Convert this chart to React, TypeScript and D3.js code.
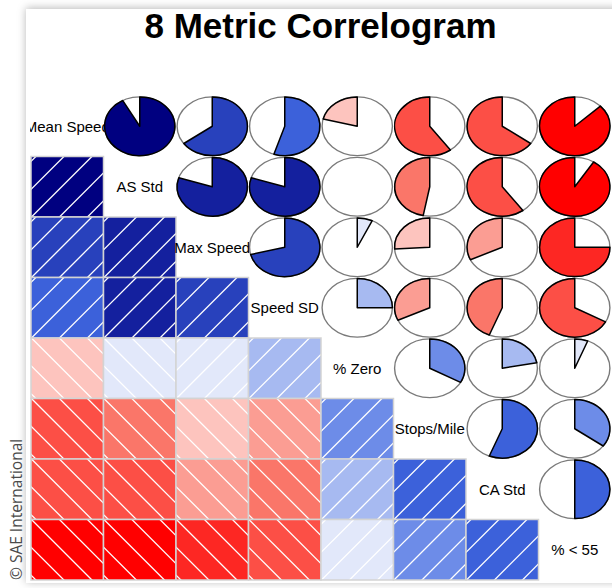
import React from "react";
import * as d3 from "d3";

// Metrics, in matrix order
const variables = [
  "Mean Speed",
  "AS Std",
  "Max Speed",
  "Speed SD",
  "% Zero",
  "Stops/Mile",
  "CA Std",
  "% < 55",
];

// Correlation of each metric with every metric listed after it
const rMeanSpeed = [0.92, 0.65, 0.55, -0.21, -0.6, -0.65, -0.87];
const rASStd = [0.8, 0.8, 0.0, -0.47, -0.6, -0.91];
const rMaxSpeed = [0.71, 0.07, -0.26, -0.32, -0.75];
const rSpeedSD = [0.25, -0.32, -0.44, -0.67];
const rPctZero = [0.33, 0.22, 0.06];
const rStopsMile = [0.56, 0.35];
const rCAStd = [0.5];

const upperRows = [rMeanSpeed, rASStd, rMaxSpeed, rSpeedSD, rPctZero, rStopsMile, rCAStd];

// Colour ramp stops (negative -> positive)
const rampStops = ["red", "salmon", "white", "royalblue", "navy"];
const colourBins = 14;

const titleText = "8 Metric Correlogram";
const creditText = "\u00A9 SAE International";

const W = 612;
const H = 588;
const FONT = "'Liberation Sans', Arial, Helvetica, sans-serif";

function corrAt(i: number, j: number): number {
  if (i === j) return 1;
  const a = Math.min(i, j);
  const b = Math.max(i, j);
  return upperRows[a][b - a - 1];
}

export default function App() {
  const x = d3.scaleBand<string>().domain(variables).range([31, 611]);
  const y = d3.scaleBand<string>().domain(variables).range([96, 580]);
  const bw = x.bandwidth();
  const bh = y.bandwidth();

  const palette = d3.quantize(d3.piecewise(d3.interpolateRgb, rampStops), colourBins);
  const colour = d3.scaleQuantize<string>().domain([-1, 1]).range(palette);

  const arc = d3.arc<any>().innerRadius(0).outerRadius(1);

  // hatch lines are anchored on the padded panel origin, 45 degrees on screen
  const pad = 0.04 / 1.08;
  const hatchStep = 28;
  const hatchK = d3.range(-8, 9);

  const cells: React.ReactNode[] = [];

  variables.forEach((rowVar, i) => {
    variables.forEach((colVar, j) => {
      const x0 = x(colVar)!;
      const y0 = y(rowVar)!;
      const cx = x0 + bw / 2;
      const cy = y0 + bh / 2;
      const key = `${i}-${j}`;

      if (i === j) {
        cells.push(
          <text
            key={key}
            x={cx}
            y={cy}
            textAnchor="middle"
            dominantBaseline="central"
            fontFamily={FONT}
            fontSize={15}
            fill="#000"
          >
            {rowVar}
          </text>
        );
        return;
      }

      const r = corrAt(i, j);

      if (i > j) {
        // shaded panel
        const ox = x0 + pad * bw;
        const oy = y0 + bh - pad * bh;
        const clipId = `clip-${key}`;
        cells.push(
          <g key={key}>
            <defs>
              <clipPath id={clipId}>
                <rect x={x0} y={y0} width={bw} height={bh} />
              </clipPath>
            </defs>
            <rect x={x0} y={y0} width={bw} height={bh} fill={colour(r)} />
            <g clipPath={`url(#${clipId})`} stroke="#fff" strokeWidth={1.3}>
              {hatchK.map((k) => {
                const px = ox + k * hatchStep;
                const L = 140;
                return r > 0 ? (
                  <line key={k} x1={px - L} y1={oy + L} x2={px + L} y2={oy - L} />
                ) : (
                  <line key={k} x1={px - L} y1={oy - L} x2={px + L} y2={oy + L} />
                );
              })}
            </g>
            <rect
              x={x0}
              y={y0}
              width={bw}
              height={bh}
              fill="none"
              stroke="#d3d3d3"
              strokeWidth={1.5}
            />
          </g>
        );
        return;
      }

      // pie panel: clockwise from 12 o'clock for positive, anticlockwise for negative
      const rx = bw * 0.485;
      const ry = bh * 0.485;
      const angle = r * 2 * Math.PI;
      const slice =
        r !== 0
          ? arc({
              startAngle: Math.min(0, angle),
              endAngle: Math.max(0, angle),
            })
          : null;
      cells.push(
        <g key={key} transform={`translate(${cx},${cy}) scale(${rx},${ry})`}>
          <ellipse
            cx={0}
            cy={0}
            rx={1}
            ry={1}
            fill="none"
            stroke="#7a7a7a"
            strokeWidth={1.4}
            vectorEffect="non-scaling-stroke"
          />
          {slice && (
            <path
              d={slice}
              fill={colour(r)}
              stroke="#000"
              strokeWidth={1.5}
              strokeLinejoin="round"
              vectorEffect="non-scaling-stroke"
            />
          )}
        </g>
      );
    });
  });

  return (
    <svg
      width={W}
      height={H}
      viewBox={`0 0 ${W} ${H}`}
      style={{ position: "absolute", left: 0, top: 0, display: "block" }}
    >
      <defs>
        <filter id="cardShadow" x="-10%" y="-10%" width="120%" height="120%">
          <feDropShadow dx={0} dy={-1} stdDeviation={4} floodColor="#000" floodOpacity={0.28} />
        </filter>
        <clipPath id="plotClip">
          <rect x={30} y={0} width={W - 30} height={H} />
        </clipPath>
      </defs>
      <rect x={0} y={0} width={W} height={H} fill="#fff" />
      <rect x={26} y={9} width={W} height={574} fill="#fff" filter="url(#cardShadow)" />

      <text
        x={320.5}
        y={38}
        textAnchor="middle"
        fontFamily={FONT}
        fontWeight="bold"
        fontSize={35}
        fill="#000"
      >
        {titleText}
      </text>

      <g clipPath="url(#plotClip)">{cells}</g>

      <text
        x={22}
        y={580}
        transform="rotate(-90, 22, 580)"
        fontFamily="'Open Sans', 'Noto Sans', sans-serif"
        fontSize={15.5}
        fill="#4a4a4a"
      >
        {creditText}
      </text>
    </svg>
  );
}
